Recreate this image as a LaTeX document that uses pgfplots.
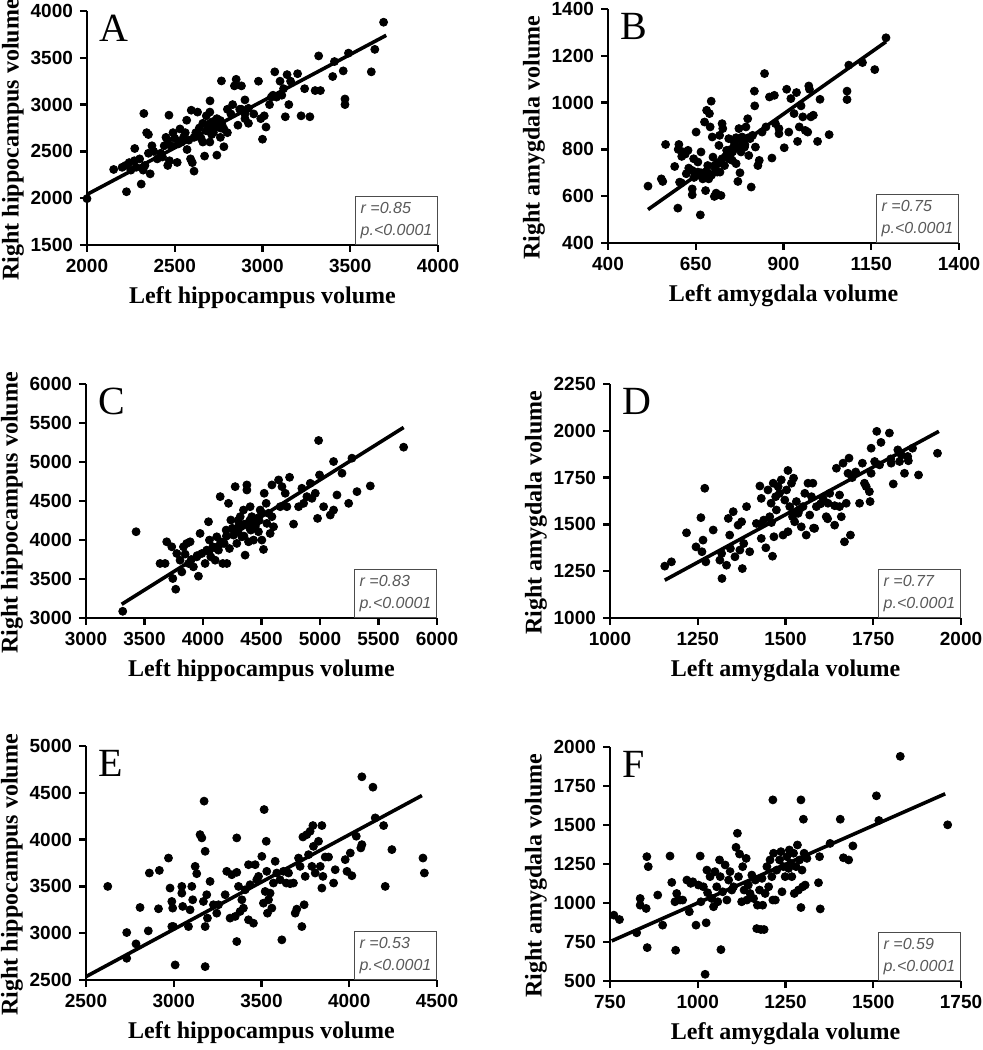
\documentclass[border=0pt]{standalone}
\usepackage{pgfplots}
\pgfplotsset{compat=1.18}
\usepackage{fontspec}
\setmainfont{Liberation Serif}
\setsansfont{Liberation Sans}
\pgfplotsset{
 panel/.style={
  scale only axis, width=175.5pt, height=117pt, anchor=south west,
  axis lines=left, axis line style={-, line width=1.2pt, black},
  tick style={line width=1.2pt, black}, tick align=outside, major tick length=3.5pt,
  minor tick num=0,
  scaled ticks=false, clip=false,
  /pgf/number format/1000 sep={}, /pgf/number format/assume math mode=true,
  tick label style={font=\sffamily\bfseries\fontsize{9.5}{10}\selectfont},
  label style={font=\bfseries\fontsize{12}{14}\selectfont},
  ylabel style={at={(ticklabel cs:0.45)}},
  ylabel shift=-3.5pt,
 },
 dots/.style={only marks, mark=*, mark size=2pt, black},
 fit/.style={no marks, line width=1.8pt, black},
}
\newcommand{\stat}[2]{\node[draw=black!70, line width=0.5pt, anchor=south east, minimum width=41pt, minimum height=24pt, align=left, inner sep=2.5pt, text=black!65, font=\sffamily\itshape\fontsize{8}{11}\selectfont] at (rel axis cs:1,0) {r =#1\\p.<#2};}
\newcommand{\letter}[1]{\node[anchor=north west, inner sep=0pt, font=\fontsize{20}{20}\selectfont] at (rel axis cs:0.035,0.985) {#1};}
\begin{document}
\begin{tikzpicture}
\useasboundingbox (0,0) rectangle (491.5pt,525pt);
% A
\begin{axis}[panel, at={(43.5pt,402.5pt)}, xmin=2000, xmax=4000, ymin=1500, ymax=4000,
 xtick={2000,2500,...,4000}, ytick={1500,2000,...,4000},
 xlabel={Left hippocampus volume}, ylabel={Right hippocampus volume}]
\addplot[dots] coordinates {(2000,1995)(2152,2307)(2220,2350)(2225,2069)(2250,2300)(2270,2400)(2272,2531)(2309,2151)(2324,2905)(2340,2700)(2350,2680)(2360,2260)(2370,2560)(2300,2420)(2320,2300)(2350,2480)(2200,2330)(2240,2380)(2280,2330)(2330,2350)
(2420,2480)(2440,2560)(2460,2620)(2460,2350)(2470,2400)(2467,2887)(2490,2700)(2500,2640)(2514,2382)(2520,2580)(2530,2740)(2550,2650)(2560,2700)(2570,2520)(2568,2833)(2590,2420)(2600,2380)(2610,2289)(2594,2940)(2630,2920)(2650,2640)(2670,2450)(2680,2880)(2690,2750)(2700,2920)(2700,2800)(2700,2600)(2701,3040)(2720,2700)(2730,2780)(2740,2460)(2740,2850)(2750,2800)(2760,2650)(2760,2750)(2770,2780)(2780,2550)(2766,3253)(2800,2950)(2800,2700)(2820,2900)(2830,3000)(2840,3200)(2850,3270)(2860,2780)(2870,2950)(2880,3200)(2900,2850)(2900,3050)(2920,2800)(2920,2960)(2950,2900)(2977,3250)(2990,2850)(3000,2630)(3010,2880)(3020,2760)(3040,3000)(3060,3100)(3070,3350)(3080,3080)(3100,3250)(3110,3100)(3130,2870)(3140,3320)(3150,3000)(3160,3250)(3200,3330)(3220,2880)(3240,3170)(3270,2870)(3300,3150)(3320,3520)(3330,3150)(3400,3300)(3410,3460)(3460,3360)(3470,3060)(3470,3000)(3490,3550)(3620,3350)(3640,3590)(3690,3880)
(2540,2600)(2580,2620)(2620,2700)(2640,2750)(2660,2800)(2680,2720)(2710,2680)(2720,2820)(2740,2760)(2760,2830)(2780,2740)(2480,2560)(2430,2440)(2400,2420)(2380,2500)(2450,2650)(2530,2600)(2610,2650)(2660,2600)(2880,2950)(2900,2900)(3050,3080)(3120,3170)};
\addplot[fit] coordinates {(2000,2040)(3705,3740)};
\letter{A}\stat{0.85}{0.0001}
\end{axis}
% B
\begin{axis}[panel, at={(304pt,403.5pt)}, xmin=400, xmax=1400, ymin=400, ymax=1400,
 xtick={400,650,900,1150,1400}, ytick={400,600,...,1400},
 xlabel={Left amygdala volume}, ylabel={Right amygdala volume}]
\addplot[dots] coordinates {(514,643)(552,674)(556,663)(564,821)(590,727)(599,549)(602,821)(609,657)(604,660)(623,696)(628,796)(640,631)(640,606)(644,760)(651,874)(656,703)(656,746)(663,520)(665,789)(670,674)(675,917)(678,624)(681,967)(684,731)(687,674)(689,953)(691,896)(694,1006)(697,853)(699,767)(703,599)(708,613)(711,703)(716,817)(718,860)(719,703)(722,603)(725,910)(727,889)(732,731)(738,796)(744,846)(748,774)(754,753)(760,817)(765,739)(770,663)(773,889)(776,700)(779,789)(782,853)(789,810)(793,896)(798,931)(801,774)(805,846)(808,639)(812,860)(817,1049)(818,986)(820,810)(827,731)(831,753)(839,874)(846,1124)(850,896)(860,1024)(867,763)(874,1031)(877,910)(887,867)(887,889)(902,807)(909,1057)(915,874)(921,1017)(930,953)(937,1043)(940,834)(945,896)(950,986)(955,939)(962,881)(969,874)(972,1071)(974,1057)(978,939)(985,946)(997,834)(1004,1014)(1030,863)(1081,1049)(1081,1013)(1086,1160)(1125,1171)(1160,1141)(1192,1277)
(740,780)(750,800)(760,830)(770,810)(780,840)(790,820)(800,850)(745,760)(755,790)(765,850)(735,770)(725,760)(715,740)(705,720)(695,690)(685,700)(675,680)(665,700)(655,690)(645,680)(640,710)(630,720)(620,780)(610,770)(600,800)(612,790)};
\addplot[fit] coordinates {(514,543)(1192,1260)};
\letter{B}\stat{0.75}{0.0001}
\end{axis}
% C
\begin{axis}[panel, at={(43pt,216pt)}, xmin=3000, xmax=6000, ymin=3000, ymax=6000,
 xtick={3000,3500,...,6000}, ytick={3000,3500,...,6000},
 xlabel={Left hippocampus volume}, ylabel={Right hippocampus volume}]
\addplot[dots] coordinates {(3314,3086)(3428,4106)(3633,3699)(3676,3699)(3690,3977)(3733,3913)(3742,3506)(3767,3369)(3776,3827)(3804,3741)(3819,3591)(3833,3913)(3847,3819)(3861,3956)(3876,3699)(3890,3977)(3918,3656)(3947,3784)(3961,3536)(3975,4084)(3990,3827)(4018,3699)(4032,3870)(4047,4234)(4055,3999)(4067,3784)(4084,3913)(4104,3741)(4118,4041)(4132,3870)(4147,4556)(4152,3977)(4169,3699)(4181,3956)(4198,4127)(4204,3699)(4218,4470)(4226,3891)(4238,4256)(4261,4063)(4275,4684)(4289,3956)(4303,4170)(4318,4299)(4332,4041)(4346,4384)(4360,3806)(4375,4706)(4375,4641)(4380,4213)(4389,3977)(4403,4427)(4409,4127)(4417,4299)(4432,3999)(4446,4170)(4460,4277)(4474,4106)(4489,4384)(4503,3999)(4517,3879)(4523,4599)(4540,4470)(4546,4213)(4560,4342)(4574,4084)(4589,4299)(4603,4170)(4589,4706)(4646,4770)(4660,4427)(4675,4684)(4703,4599)(4717,4427)(4740,4804)(4774,4204)(4817,4427)(4845,4663)(4860,4470)(4888,4556)(4917,4727)(4931,4534)(4960,4599)(4979,4277)(4988,5276)(4996,4834)(5031,4427)(5088,4320)(5116,4384)(5116,5006)(5145,4577)(5188,4856)(5245,4470)(5273,5049)(5316,4620)(5430,4693)(5715,5190)
(4250,4150)(4300,4100)(4350,4200)(4400,4250)(4300,4250)(4450,4200)(4500,4350)(4200,4050)(4150,3950)(4100,3900)(4050,3850)(4350,4050)(4400,4150)(4480,4250)(3950,3800)(3900,3750)};
\addplot[fit] coordinates {(3305,3176)(5715,5443)};
\letter{C}\stat{0.83}{0.0001}
\end{axis}
% D
\begin{axis}[panel, at={(305pt,216pt)}, xmin=1000, xmax=2000, ymin=1000, ymax=2250,
 xtick={1000,1250,...,2000}, ytick={1000,1250,...,2250},
 xlabel={Left amygdala volume}, ylabel={Right amygdala volume}]
\addplot[dots] coordinates {(1156,1277)(1175,1300)(1218,1455)(1245,1380)(1259,1536)(1262,1354)(1265,1416)(1270,1693)(1273,1300)(1294,1470)(1313,1309)(1318,1345)(1319,1211)(1332,1282)(1337,1532)(1341,1443)(1343,1371)(1351,1568)(1356,1327)(1365,1496)(1370,1363)(1375,1514)(1377,1264)(1381,1398)(1389,1595)(1398,1354)(1417,1505)(1427,1705)(1431,1639)(1431,1425)(1438,1523)(1444,1375)(1450,1684)(1455,1541)(1459,1613)(1463,1330)(1465,1720)(1467,1434)(1472,1648)(1474,1577)(1479,1702)(1483,1666)(1488,1738)(1493,1443)(1498,1630)(1503,1684)(1507,1788)(1507,1461)(1512,1595)(1517,1720)(1520,1541)(1523,1747)(1526,1514)(1531,1622)(1536,1559)(1545,1487)(1550,1595)(1555,1666)(1559,1443)(1564,1720)(1569,1550)(1574,1648)(1578,1720)(1583,1479)(1588,1595)(1607,1639)(1616,1541)(1621,1613)(1626,1666)(1640,1496)(1645,1800)(1654,1595)(1654,1657)(1659,1541)(1664,1827)(1668,1407)(1673,1613)(1678,1773)(1681,1854)(1685,1443)(1711,1613)(1719,1827)(1725,1720)(1730,1702)(1739,1675)(1741,1622)(1744,1773)(1744,1907)(1754,1836)(1760,1997)(1768,1818)(1772,1938)(1796,1988)(1801,1827)(1807,1716)(1820,1898)(1825,1836)(1839,1773)(1848,1863)(1862,1907)(1879,1764)(1933,1880)
(1800,1850)(1830,1870)(1850,1840)(1620,1530)(1640,1600)(1690,1750)(1700,1780)(1580,1480)(1600,1610)(1430,1500)(1460,1510)(1520,1560)(1540,1580)};
\addplot[fit] coordinates {(1156,1202)(1937,1997)};
\letter{D}\stat{0.77}{0.0001}
\end{axis}
% E
\begin{axis}[panel, at={(43pt,35pt)}, xmin=2500, xmax=4500, ymin=2500, ymax=5000,
 xtick={2500,3000,...,4500}, ytick={2500,3000,...,5000},
 xlabel={Left hippocampus volume}, ylabel={Right hippocampus volume}]
\addplot[dots] coordinates {(2624,3500)(2732,3007)(2732,2732)(2785,2886)(2808,3275)(2855,3025)(2861,3643)(2913,3261)(2918,3671)(2970,3803)(2979,3482)(2989,3339)(2989,3071)(2994,3268)(3008,2661)(2998,3071)(3046,3500)(3046,3428)(3051,3286)(3084,3071)(3093,3250)(3103,3500)(3108,3357)(3122,3714)(3131,3636)(3150,4053)(3160,4018)(3169,3339)(3173,4411)(3179,3875)(3179,3071)(3179,2643)(3188,3411)(3192,3161)(3207,3553)(3226,3304)(3245,3214)(3255,3304)(3293,3411)(3302,3661)(3321,3161)(3331,3625)(3350,3179)(3359,4018)(3359,3650)(3359,2911)(3369,3500)(3378,3232)(3388,3357)(3397,3268)(3407,3464)(3426,3732)(3426,3143)(3435,3518)(3454,3107)(3464,3732)(3473,3571)(3483,3607)(3502,3821)(3511,3321)(3515,4321)(3521,3446)(3527,3982)(3530,3661)(3534,3214)(3540,3357)(3549,3428)(3559,3268)(3568,3536)(3578,3768)(3587,3643)(3606,3571)(3616,2929)(3625,3661)(3641,3536)(3654,3643)(3663,3529)(3682,3536)(3692,3214)(3701,3257)(3711,3803)(3720,3714)(3730,3071)(3736,4028)(3743,3304)(3749,3607)(3758,4053)(3768,3839)(3777,4089)(3787,3714)(3793,4150)(3796,3928)(3806,3643)(3825,3982)(3835,3714)(3844,4150)(3844,3482)(3850,3607)(3863,3814)(3882,3814)(3911,3536)(3920,3678)(3977,3786)(3987,3661)(4006,3857)(4015,3614)(4040,4036)(4066,3911)(4072,3946)(4072,4671)(4135,4560)(4148,4232)(4196,4150)(4205,3500)(4243,3893)(4420,3803)(4428,3643)};
\addplot[fit] coordinates {(2500,2536)(4414,4471)};
\letter{E}\stat{0.53}{0.0001}
\end{axis}
% F
\begin{axis}[panel, at={(305pt,34.5pt)}, xmin=750, xmax=1750, ymin=500, ymax=2000,
 xtick={750,1000,...,1750}, ytick={500,750,...,2000},
 xlabel={Left amygdala volume}, ylabel={Right amygdala volume}]
\addplot[dots] coordinates {(761,922)(777,894)(826,809)(836,1029)(836,986)(853,965)(855,1297)(859,1233)(856,714)(886,1051)(900,858)(921,1301)(926,1132)(935,1008)(937,697)(940,1061)(945,1023)(950,1019)(957,1019)(969,1147)(976,944)(980,1126)(986,1136)(995,858)(1002,1115)(1007,1301)(1009,1008)(1016,1104)(1021,543)(1024,873)(1026,1211)(1028,1066)(1035,1169)(1040,1029)(1045,976)(1049,1201)(1054,1104)(1057,1008)(1062,1276)(1064,1169)(1066,701)(1071,1072)(1078,1244)(1083,1019)(1088,1147)(1092,1201)(1097,1083)(1102,1104)(1109,1357)(1113,1447)(1116,1169)(1119,1314)(1125,1008)(1128,1233)(1132,1083)(1138,1286)(1140,1019)(1144,1115)(1149,1061)(1154,1179)(1159,1029)(1164,1147)(1168,836)(1170,986)(1176,1083)(1180,830)(1183,1158)(1185,986)(1189,830)(1192,1061)(1197,1233)(1202,1104)(1206,1276)(1211,1169)(1214,1661)(1214,1019)(1216,1319)(1221,1019)(1225,1211)(1233,1276)(1237,1329)(1240,1072)(1244,1233)(1249,1169)(1254,1297)(1259,1222)(1261,1340)(1265,1254)(1268,1169)(1273,1319)(1275,1061)(1280,1233)(1284,1372)(1287,1083)(1290,1276)(1294,1661)(1294,971)(1297,1211)(1299,1104)(1301,1537)(1303,1319)(1306,1115)(1311,1286)(1344,1130)(1347,1297)(1349,962)(1377,1382)(1406,1537)(1415,1290)(1430,1276)(1442,1366)(1509,1687)(1516,1529)(1577,1940)(1712,1501)};
\addplot[fit] coordinates {(755,757)(1705,1700)};
\letter{F}\stat{0.59}{0.0001}
\end{axis}
\end{tikzpicture}
\end{document}
